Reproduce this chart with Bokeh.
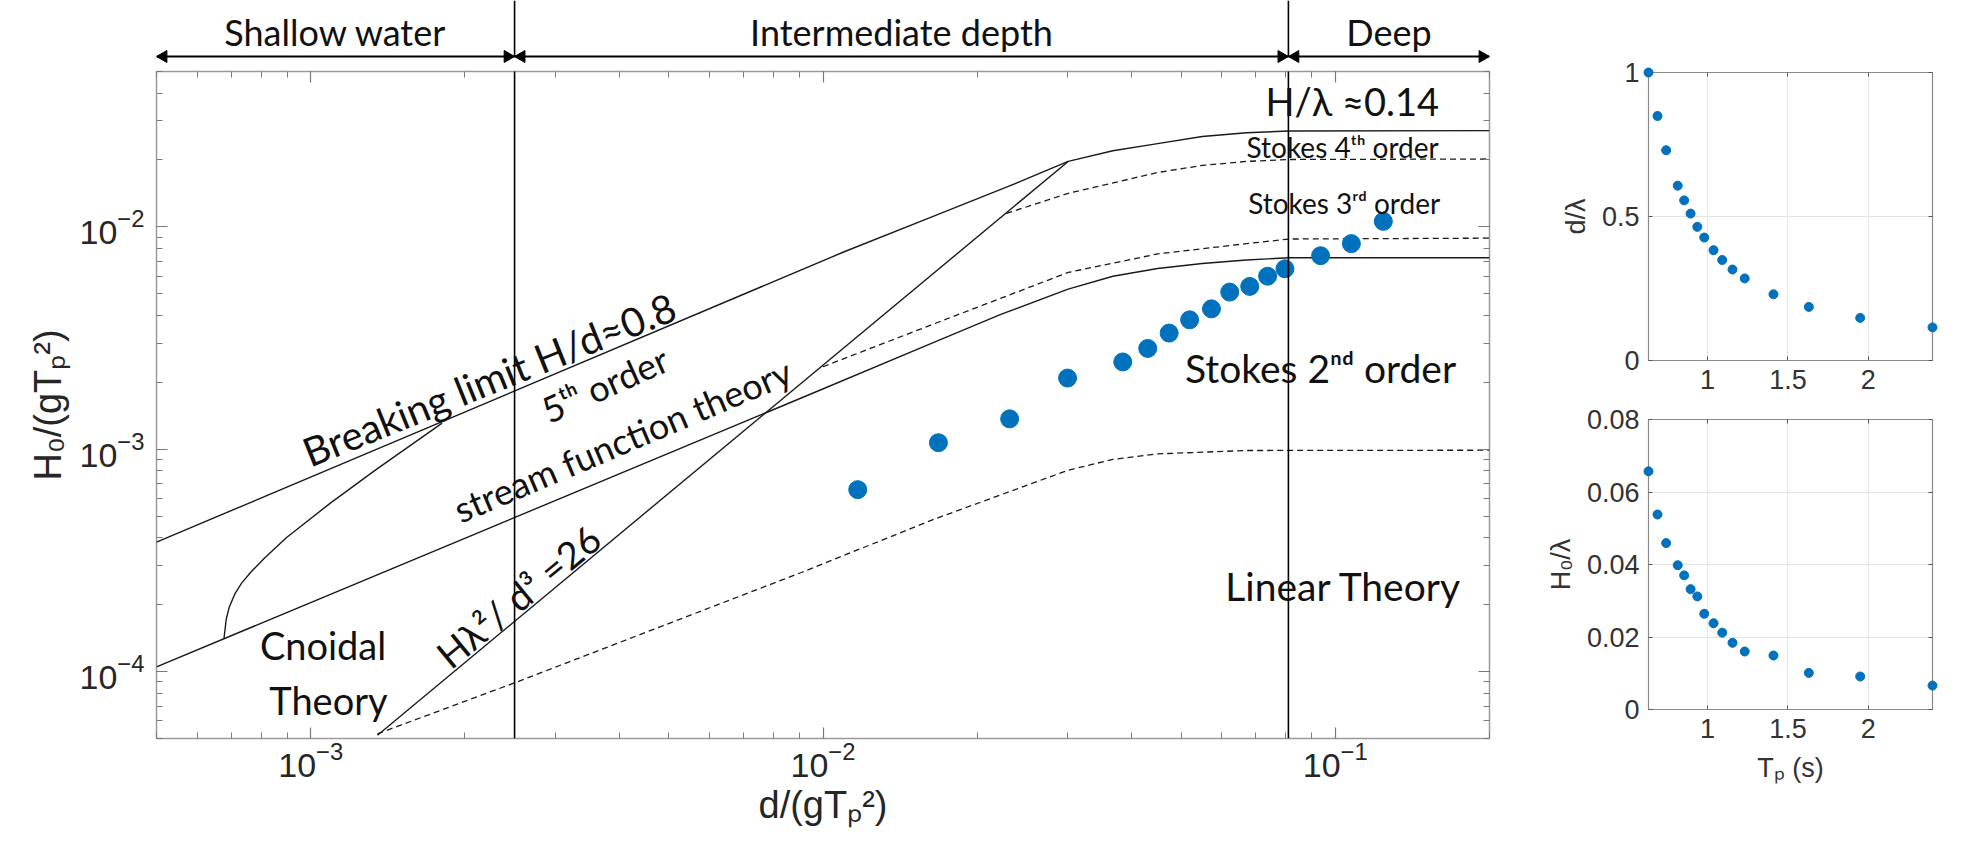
import math
from bokeh.plotting import figure
from bokeh.models import (LogAxis, LinearAxis, LogTicker, FixedTicker, Label, Arrow,
                          Range1d, NumeralTickFormatter, CustomJSTickFormatter)
from bokeh.layouts import row, column
from bokeh.embed import file_html
from bokeh.resources import INLINE
from bokeh.core.properties import value

# ---------------- data ----------------
x_lim = [5e-4, 0.2]
y_lim = [5e-5, 0.05]
shallow_limit = 0.0025
deep_limit = 0.081

breaking_x = [5.0e-4, 0.0110, 0.0165, 0.0230, 0.0301, 0.0368, 0.0450, 0.0550, 0.0671, 0.0813, 0.2]
breaking_y = [3.82e-4, 7.73e-3, 0.0112, 0.0152, 0.0197, 0.0220, 0.0237, 0.0255, 0.0265, 0.0270, 0.0271]

stream_x = [5.0e-4, 0.00907, 0.0165, 0.0223, 0.0301, 0.0368, 0.0450, 0.0550, 0.0671, 0.0813, 0.2]
stream_y = [1.05e-4, 1.70e-3, 3.03e-3, 4.05e-3, 5.25e-3, 6.00e-3, 6.50e-3, 6.85e-3, 7.10e-3, 7.27e-3, 7.27e-3]

ursell_x = [1.35e-3, 0.0301]
ursell_y = [5.17e-5, 0.0197]

cnoidal_x = [6.77e-4, 6.84e-4, 6.93e-4, 7.12e-4, 7.33e-4, 7.63e-4, 8.10e-4, 8.96e-4,
             1.094e-3, 1.337e-3, 1.805e-3]
cnoidal_y = [1.40e-4, 1.72e-4, 1.94e-4, 2.25e-4, 2.50e-4, 2.79e-4, 3.22e-4, 4.00e-4,
             5.74e-4, 8.05e-4, 1.31e-3]

stokes45_x = [0.0228, 0.0301, 0.0450, 0.0550, 0.0671, 0.0813, 0.2]
stokes45_y = [0.0115, 0.01415, 0.01757, 0.0189, 0.0197, 0.0201, 0.0202]

stokes23_x = [0.0100, 0.0165, 0.0301, 0.0450, 0.0671, 0.0813, 0.2]
stokes23_y = [2.35e-3, 3.67e-3, 6.24e-3, 7.56e-3, 8.41e-3, 8.82e-3, 8.90e-3]

linear_x = [1.35e-3, 2.53e-3, 9.07e-3, 0.0165, 0.0301, 0.0368, 0.0450, 0.0671, 0.2]
linear_y = [5.25e-5, 8.99e-5, 2.79e-4, 4.85e-4, 8.05e-4, 9.00e-4, 9.53e-4, 9.87e-4, 9.90e-4]

meas_d = [0.01169, 0.0168, 0.02314, 0.03002, 0.03847, 0.04304, 0.04739, 0.05196,
          0.05732, 0.06222, 0.06808, 0.07376, 0.07975, 0.0936, 0.1075, 0.1241]
meas_h = [6.58e-4, 1.07e-3, 1.37e-3, 2.09e-3, 2.47e-3, 2.84e-3, 3.33e-3, 3.82e-3,
          4.28e-3, 5.09e-3, 5.40e-3, 6.00e-3, 6.48e-3, 7.42e-3, 8.41e-3, 0.01059]

tp = [0.632, 0.688, 0.742, 0.814, 0.854, 0.894, 0.936, 0.979,
      1.037, 1.091, 1.155, 1.231, 1.41, 1.63, 1.95, 2.40]
d_over_lambda = [1.0, 0.849, 0.730, 0.607, 0.556, 0.510, 0.464, 0.427,
                 0.383, 0.349, 0.316, 0.285, 0.230, 0.186, 0.148, 0.115]
h_over_lambda = [0.0657, 0.0538, 0.0459, 0.0398, 0.0370, 0.0332, 0.0312, 0.0264,
                 0.0238, 0.0212, 0.0184, 0.0160, 0.0149, 0.0101, 0.0091, 0.0066]

tp_ticks = [1, 1.5, 2]
dl_ticks = [0, 0.5, 1]
hl_ticks = [0, 0.02, 0.04, 0.06, 0.08]

zone_names = ["Shallow water", "Intermediate depth", "Deep"]

# ---------------- styling / layout ----------------
BLUE = "#0072BD"
INK = "#1a1a1a"
FRAME = "#9a9a9a"
TICKC = "#262626"
AX_FONT = "Liberation Sans"
TXT_FONT = "Lato"

W_MAIN = 1540
BL, BR = 156, 51
STRIP_H = 65           # strip above the main frame (arrows + zone names)
BT = 6                 # main figure top border
FRAME_H = 667
BB = 106
H_MAIN = BT + FRAME_H + BB
FRAME_W = W_MAIN - BL - BR
PX_PER_DEC_Y = FRAME_H / math.log10(y_lim[1] / y_lim[0])
PX_PER_DEC_X = FRAME_W / math.log10(x_lim[1] / x_lim[0])

xr = Range1d(*x_lim)


def y_above(px):
    """data y that lies px pixels above the top of the main frame"""
    return y_lim[1] * 10 ** (px / PX_PER_DEC_Y)


def x_shift(x, px):
    return x * 10 ** (px / PX_PER_DEC_X)


def gmid(a, b):
    return math.sqrt(a * b)


# ---------------- strip with depth zones ----------------
strip = figure(width=W_MAIN, height=STRIP_H, x_axis_type="log", x_range=xr,
               y_range=Range1d(0, STRIP_H), output_backend="svg", toolbar_location=None,
               x_axis_location=None, y_axis_location=None,
               min_border_left=BL, min_border_right=BR, min_border_top=0, min_border_bottom=0)
strip.outline_line_color = None
strip.grid.visible = False
strip.background_fill_color = "white"
strip.border_fill_color = "white"

ARROW_Y = 9           # 15 px above the main frame
NAME_Y = 34
zone_edges = [x_lim[0], shallow_limit, deep_limit, x_lim[1]]
starts = zone_edges[:-1]
ends = zone_edges[1:]
strip.segment(x0=starts, y0=[ARROW_Y] * 3, x1=ends, y1=[ARROW_Y] * 3,
              line_color="black", line_width=2)
strip.segment(x0=[shallow_limit, deep_limit], y0=[ARROW_Y] * 2,
              x1=[shallow_limit, deep_limit], y1=[STRIP_H] * 2,
              line_color="black", line_width=1.6)
HEAD = 12
tip_off = HEAD / 2 * 2 / math.sqrt(3)
strip.scatter([x_shift(a, tip_off) for a in starts], [ARROW_Y] * 3, marker="triangle",
              size=HEAD, angle=math.pi / 2, fill_color="black", line_color="black")
strip.scatter([x_shift(b, -tip_off) for b in ends], [ARROW_Y] * 3, marker="triangle",
              size=HEAD, angle=-math.pi / 2, fill_color="black", line_color="black")
strip.text(x=[gmid(a, b) for a, b in zip(starts, ends)], y=[NAME_Y] * 3, text=zone_names,
           text_align="center", text_baseline="middle", text_font=value(TXT_FONT),
           text_font_size="36px", text_color="#111111")

# ---------------- main diagram ----------------
p = figure(width=W_MAIN, height=H_MAIN, x_axis_type="log", y_axis_type="log",
           x_range=xr, y_range=Range1d(*y_lim),
           output_backend="svg", toolbar_location=None,
           min_border_left=BL, min_border_right=BR, min_border_top=BT, min_border_bottom=BB)
p.background_fill_color = "white"
p.border_fill_color = "white"
p.outline_line_color = FRAME
p.outline_line_width = 1.5
p.grid.visible = False


def style_log_axis(ax, show_labels=True):
    ax.ticker = LogTicker(num_minor_ticks=10)
    ax.major_tick_in = 11
    ax.major_tick_out = 0
    ax.minor_tick_in = 6
    ax.minor_tick_out = 0
    ax.axis_line_color = None
    ax.major_tick_line_color = "#7a7a7a"
    ax.minor_tick_line_color = "#7a7a7a"
    ax.major_tick_line_width = 1.2
    ax.minor_tick_line_width = 1.0
    ax.major_label_text_font = AX_FONT
    ax.major_label_text_color = TICKC
    if show_labels:
        ax.major_label_text_font_size = "34px"
    else:
        ax.formatter = CustomJSTickFormatter(code="return ''")
        ax.major_label_text_font_size = "1px"
        ax.major_label_standoff = 0


style_log_axis(p.xaxis[0])
style_log_axis(p.yaxis[0])
p.xaxis[0].major_label_standoff = 3
p.yaxis[0].major_label_standoff = 12
p.xaxis[0].axis_label = "d/(gTₚ²)"
p.yaxis[0].axis_label = "H₀/(gTₚ²)"
for ax in (p.xaxis[0], p.yaxis[0]):
    ax.axis_label_text_font = AX_FONT
    ax.axis_label_text_font_size = "38px"
    ax.axis_label_text_font_style = "normal"
    ax.axis_label_text_color = TICKC
p.xaxis[0].axis_label_standoff = 4
p.yaxis[0].axis_label_standoff = 8

top_ax = LogAxis()
right_ax = LogAxis()
style_log_axis(top_ax, False)
style_log_axis(right_ax, False)
p.add_layout(top_ax, "above")
p.add_layout(right_ax, "right")

# depth zone boundaries (continue into the strip above)
for xb in (shallow_limit, deep_limit):
    p.add_layout(Arrow(start=None, end=None, x_start=xb, y_start=y_lim[0],
                       x_end=xb, y_end=y_above(BT + 2), line_color="black", line_width=1.6))

# theory curves
p.line(breaking_x, breaking_y, line_color=INK, line_width=1.4)
p.line(stream_x, stream_y, line_color=INK, line_width=1.4)
p.line(ursell_x, ursell_y, line_color=INK, line_width=1.4)
p.line(cnoidal_x, cnoidal_y, line_color=INK, line_width=1.4)
p.line(stokes45_x, stokes45_y, line_color=INK, line_width=1.3, line_dash="6 4")
p.line(stokes23_x, stokes23_y, line_color=INK, line_width=1.3, line_dash="6 4")
p.line(linear_x, linear_y, line_color=INK, line_width=1.3, line_dash="6 4")

# measured points
p.scatter(meas_d, meas_h, size=18, fill_color=BLUE, line_color=BLUE)

# region annotations
notes = [
    ("Breaking limit H/d≈0.8", 2.23e-3, 2.06e-3, 40, 22.0, "center"),
    ("5ᵗʰ order", 3.75e-3, 1.96e-3, 36, 24.0, "center"),
    ("stream function theory", 4.06e-3, 1.10e-3, 36, 23.0, "center"),
    ("Hλ²/ d³ =26", 2.54e-3, 2.19e-4, 38, 39.5, "center"),
    ("Cnoidal", 1.057e-3, 1.31e-4, 38, 0.0, "center"),
    ("Theory", 1.083e-3, 7.48e-5, 38, 0.0, "center"),
    ("H/λ ≈0.14", 0.0731, 0.0367, 38, 0.0, "left"),
    ("Stokes 4ᵗʰ  order", 0.0671, 0.0229, 28, 0.0, "left"),
    ("Stokes 3ʳᵈ order", 0.0676, 0.01285, 28, 0.0, "left"),
    ("Stokes 2ⁿᵈ order", 0.0509, 2.32e-3, 39, 0.0, "left"),
    ("Linear Theory", 0.0610, 2.42e-4, 39, 0.0, "left"),
]
for text, x, y, size, ang, align in notes:
    p.add_layout(Label(x=x, y=y, text=text, angle=ang, angle_units="deg",
                       text_align=align, text_baseline="middle", text_font=TXT_FONT,
                       text_font_size=f"{size}px", text_color="#111111"))


# ---------------- side panels ----------------
def style_lin_axis(ax, ticks, show_labels=True):
    ax.ticker = FixedTicker(ticks=ticks)
    ax.major_tick_in = 4
    ax.major_tick_out = 0
    ax.minor_tick_in = 0
    ax.minor_tick_out = 0
    ax.axis_line_color = None
    ax.major_tick_line_color = "#555555"
    ax.major_label_text_font = AX_FONT
    ax.major_label_text_color = "#333333"
    if show_labels:
        ax.formatter = NumeralTickFormatter(format="0.[00]")
        ax.major_label_text_font_size = "27px"
        ax.major_label_standoff = 9
    else:
        ax.formatter = CustomJSTickFormatter(code="return ''")
        ax.major_label_text_font_size = "1px"
        ax.major_label_standoff = 0
    ax.axis_label_text_font = AX_FONT
    ax.axis_label_text_font_size = "27px"
    ax.axis_label_text_font_style = "normal"
    ax.axis_label_text_color = "#333333"


SIDE_W, SBL, SBR = 412, 108, 20


def side_panel(height, yvals, yticks, ylim, ylabel, bt, bb, xlabel=None):
    s = figure(width=SIDE_W, height=height, x_range=Range1d(tp[0], tp[-1]), y_range=Range1d(*ylim),
               output_backend="svg", toolbar_location=None,
               min_border_left=SBL, min_border_right=SBR, min_border_top=bt, min_border_bottom=bb)
    s.background_fill_color = "white"
    s.border_fill_color = "white"
    s.outline_line_color = "#8a8a8a"
    s.outline_line_width = 1.2
    style_lin_axis(s.xaxis[0], tp_ticks)
    style_lin_axis(s.yaxis[0], yticks)
    s.yaxis[0].axis_label = ylabel
    s.yaxis[0].axis_label_standoff = 8
    if xlabel:
        s.xaxis[0].axis_label = xlabel
        s.xaxis[0].axis_label_standoff = 12
    ta = LinearAxis()
    ra = LinearAxis()
    style_lin_axis(ta, tp_ticks, False)
    style_lin_axis(ra, yticks, False)
    s.add_layout(ta, "above")
    s.add_layout(ra, "right")
    s.xgrid.ticker = FixedTicker(ticks=tp_ticks)
    s.ygrid.ticker = FixedTicker(ticks=yticks)
    s.grid.grid_line_color = "#e4e4e4"
    s.grid.grid_line_width = 1
    s.scatter(tp, yvals, size=9, fill_color=BLUE, line_color=BLUE, level="overlay")
    return s


s1 = side_panel(404, d_over_lambda, dl_ticks, (0, 1), "d/λ", 72, 44)
s2 = side_panel(440, h_over_lambda, hl_ticks, (0, 0.08), "H₀/λ", 15, 135, xlabel="Tₚ (s)")

layout = row(column(strip, p), column(s1, s2))
open("out.html", "w").write(file_html(layout, INLINE))
